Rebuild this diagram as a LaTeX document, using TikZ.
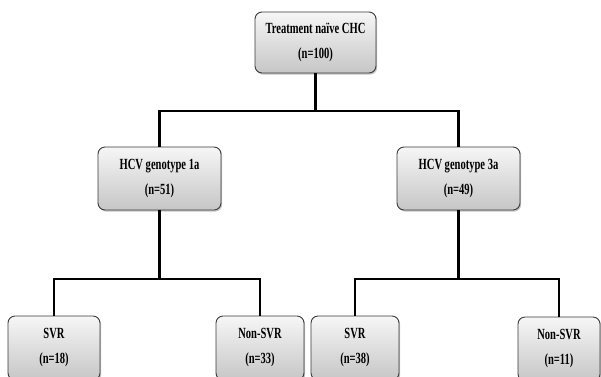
\documentclass[tikz,border=0pt]{standalone}
\usepackage{fontspec}
\newfontfamily\boxfont[FakeStretch=0.68]{Liberation Serif}
\usetikzlibrary{shadows}
\definecolor{boxtop}{HTML}{F6F6F6}
\definecolor{boxbot}{HTML}{C6C6C6}
\definecolor{boxedge}{HTML}{3A3A3A}
\tikzset{
  box/.style={draw=boxedge, line width=0.9pt, rounded corners=7pt,
    top color=boxtop, bottom color=boxbot,
    drop shadow={shadow xshift=1.2pt, shadow yshift=-1.6pt, opacity=0.45},
    align=center, inner sep=0pt,
    font=\boxfont\bfseries\fontsize{15.5}{25}\selectfont},
  link/.style={line width=2.8pt, black}
}
\begin{document}
\begin{tikzpicture}[x=1pt, y=-1pt]
\useasboundingbox (0,0) rectangle (601,376);
\clip (0,0) rectangle (601,376);
\fill[white] (0,0) rectangle (601,376);
\coordinate (j0) at (315.5,111);
\coordinate (j1) at (159.5,279);
\coordinate (j2) at (458.5,279);
\node[box, minimum width=121pt, minimum height=61pt] (top) at (315.5,42.5) {Treatment naïve CHC\\(n=100)};
\node[box, minimum width=123pt, minimum height=63pt] (g1) at (159.5,178.5) {HCV genotype 1a\\(n=51)};
\node[box, minimum width=123pt, minimum height=63pt] (g3) at (458.5,178.5) {HCV genotype 3a\\(n=49)};
\node[box, minimum width=92pt, minimum height=64pt] (s1) at (54,348) {SVR\\(n=18)};
\node[box, minimum width=88pt, minimum height=64pt] (n1) at (260,348) {Non-SVR\\(n=33)};
\node[box, minimum width=88pt, minimum height=64pt] (s2) at (355,348) {SVR\\(n=38)};
\node[box, minimum width=82pt, minimum height=64pt] (n2) at (559,349) {Non-SVR\\(n=11)};
\draw[link] (top) -- (j0);
\draw[link] (g1.north) |- (j0) -| (g3.north);
\draw[link] (g1) -- (j1);
\draw[link] (s1.north) |- (j1) -| (n1.north);
\draw[link] (g3) -- (j2);
\draw[link] (s2.north) |- (j2) -| (n2.north);
\end{tikzpicture}
\end{document}
